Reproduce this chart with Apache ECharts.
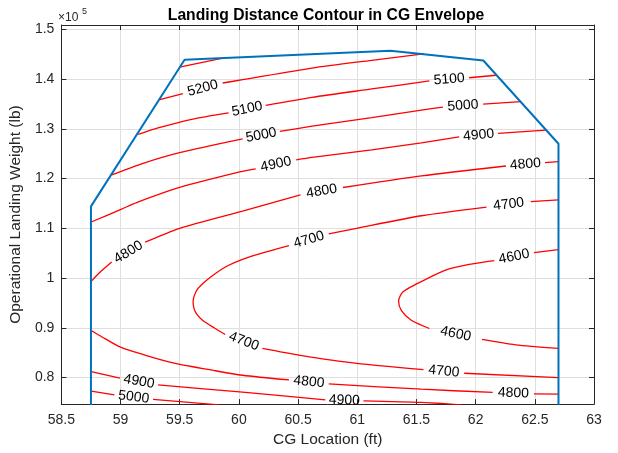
<!DOCTYPE html>
<html><head><meta charset="utf-8">
<script src="https://cdn.jsdelivr.net/npm/echarts@6/dist/echarts.min.js"></script>
<style>html,body{margin:0;padding:0;background:#fff}#c{width:618px;height:453px}</style>
</head><body><div id="c"></div><script>
const FONT = '"Liberation Sans", Arial, Helvetica, sans-serif';

// Axes
const xMin = 58.5, xMax = 63, xStep = 0.5;
const yMin = 74660, yMax = 150860;
const yTicks = [80000, 90000, 100000, 110000, 120000, 130000, 140000, 150000];

// CG envelope (x: CG location ft, y: weight lb)
const envelopeX = [58.75, 58.75, 59.541, 61.28, 62.065, 62.7, 62.7];
const envelopeY = [74000, 114400, 143860, 145700, 143720, 127000, 74000];

// Contour lines: each is a list of segments; gaps between segments hold the labels
const contour5300 = [[[59.499,142400],[59.863,144200]]];
const contour5200 = [
  [[59.331,135860],[59.527,137060]],
  [[59.863,139200],[60.031,139860],[60.618,142200],[61.122,143760],[61.559,145060]]
];
const contour5100 = [
  [[59.149,128860],[59.317,130160],[59.611,131960],[59.913,133200]],
  [[60.226,134720],[60.618,136320],[61.122,138000],[61.609,139620]],
  [[61.945,140260],[62.172,140760]]
];
const contour5000Upper = [
  [[58.925,120720],[59.191,123060],[59.499,125200],[60.031,127960]],
  [[60.346,129460],[60.618,130520],[61.122,132260],[61.542,133760],[61.724,134350]],
  [[62.063,134950],[62.382,135460]]
];
const contour4900Upper = [
  [[58.752,111260],[59.009,113860],[59.135,115160],[59.499,118200],[60.031,121460],[60.142,121960]],
  [[60.484,123760],[60.618,124260],[61.122,125760],[61.542,127160],[61.861,128360]],
  [[62.189,129060],[62.592,129720]]
];
const contour4800Upper = [
  [[58.752,99320],[58.813,100860],[58.925,103200]],
  [[59.208,107200],[59.499,110000],[60.031,113460],[60.520,116720]],
  [[60.879,118200],[61.542,120520],[62.256,122520]],
  [[62.586,123200],[62.698,123400]]
];
const contour4700 = [
  [[62.698,115720],[62.466,115360]],
  [[62.092,114260],[61.542,112520],[60.994,110000],[60.759,108860]],
  [[60.423,106520],[60.215,105160],[60.031,103760],[59.905,102460],[59.793,100760],[59.712,99260],
   [59.653,97860],[59.623,96460],[59.613,95160],[59.621,93860],[59.644,92760],[59.695,91460],
   [59.793,89960],[59.884,88660]],
  [[60.199,85860],[60.507,84520],[60.994,82860],[61.559,81600]],
  [[61.903,80860],[62.698,80000]]
];
const contour4600 = [
  [[62.698,105720],[62.493,105100]],
  [[62.157,103520],[61.973,102860],[61.752,101660],[61.497,98760],[61.385,97200],[61.349,95400],
   [61.372,93520],[61.456,91520],[61.609,89860]],
  [[62.054,87660],[62.338,86580],[62.698,85860]]
];
const contour4800Lower = [
  [[58.752,89460],[58.841,88200],[58.995,86160],[59.205,84520],[59.443,82960],[59.793,81400],[60.031,80460],[60.423,79520]],
  [[60.759,78720],[61.542,77660],[62.144,77000]],
  [[62.493,76700],[62.698,76660]]
];
const contour4900Lower = [
  [[58.752,81200],[58.995,79860]],
  [[59.317,78520],[60.031,77060],[60.730,75520]],
  [[61.052,75320],[61.542,75000],[61.878,74520]]
];
const contour5000Lower = [
  [[58.752,77260],[58.948,76520]],
  [[59.275,75600],[59.829,74520]]
];

const contourLevels = [5300, 5200, 5100, 5000, 4900, 4800, 4700, 4600, 4800, 4900, 5000];
const contourLines = [contour5300, contour5200, contour5100, contour5000Upper, contour4900Upper,
  contour4800Upper, contour4700, contour4600, contour4800Lower, contour4900Lower, contour5000Lower];

const series = [];
const labelData = [];
contourLines.forEach((segs, ci) => {
  segs.forEach((seg, si) => {
    series.push({
      type: 'line', data: seg, symbol: 'none', silent: true, animation: false, smooth: 0.25,
      lineStyle: { color: '#ff0000', width: 1.3 }, z: 3
    });
    if (si > 0) {
      const a = segs[si - 1][segs[si - 1].length - 1], b = seg[0];
      labelData.push([a[0], a[1], b[0], b[1], contourLevels[ci]]);
    }
  });
});

series.push({
  type: 'custom', data: labelData, silent: true, animation: false, z: 4,
  dimensions: ['x1', 'y1', 'x2', 'y2', 'level'],
  encode: { x: [0, 2], y: [1, 3] },
  renderItem(params, api) {
    const p1 = api.coord([api.value(0), api.value(1)]);
    const p2 = api.coord([api.value(2), api.value(3)]);
    let ang = Math.atan2(p2[1] - p1[1], p2[0] - p1[0]);
    if (ang > Math.PI / 2) ang -= Math.PI;
    if (ang < -Math.PI / 2) ang += Math.PI;
    return {
      type: 'text', x: (p1[0] + p2[0]) / 2, y: (p1[1] + p2[1]) / 2, rotation: -ang,
      style: { text: String(api.value(4)), align: 'center', verticalAlign: 'middle',
        fill: '#000', fontSize: 14, fontFamily: FONT }
    };
  }
});

series.push({
  type: 'line', data: envelopeX.map((x, i) => [x, envelopeY[i]]), symbol: 'none',
  silent: true, animation: false, z: 5,
  lineStyle: { color: '#0072BD', width: 2 }
});

const axisCol = '#262626';
const gridCol = '#dfdfdf';

const chart = echarts.init(document.getElementById('c'), null, { renderer: 'canvas' });
chart.setOption({
  animation: false,
  backgroundColor: '#fff',
  grid: { left: 58, right: 24, top: 25, bottom: 47 },
  xAxis: [{
    type: 'value', min: xMin, max: xMax, interval: xStep,
    name: 'CG Location (ft)', nameLocation: 'middle', nameGap: 27,
    nameTextStyle: { fontSize: 15.5, color: axisCol, fontFamily: FONT },
    axisLine: { lineStyle: { color: axisCol, width: 1 } },
    axisTick: { inside: true, length: 5, lineStyle: { color: axisCol } },
    axisLabel: { fontSize: 14, color: axisCol, fontFamily: FONT, margin: 9 },
    splitLine: { show: true, lineStyle: { color: gridCol, width: 1 } }
  }, {
    type: 'value', min: xMin, max: xMax, interval: xStep, position: 'top',
    axisLine: { show: true, lineStyle: { color: axisCol, width: 1 } },
    axisTick: { show: true, inside: true, length: 5, lineStyle: { color: axisCol } },
    axisLabel: { show: false }, splitLine: { show: false }
  }],
  yAxis: [{
    type: 'value', min: yMin, max: yMax,
    name: 'Operational Landing Weight (lb)', nameLocation: 'middle', nameGap: 31,
    nameTextStyle: { fontSize: 15.5, color: axisCol, fontFamily: FONT },
    axisLine: { show: true, lineStyle: { color: axisCol, width: 1 } },
    axisTick: { show: true, inside: true, length: 5, customValues: yTicks, lineStyle: { color: axisCol } },
    axisLabel: { fontSize: 14, color: axisCol, fontFamily: FONT, margin: 7, customValues: yTicks,
      formatter: v => String(Math.round(v / 1e4) / 10) },
    splitLine: { show: true, lineStyle: { color: gridCol, width: 1 } }
  }, {
    type: 'value', min: yMin, max: yMax, position: 'right',
    axisLine: { show: true, lineStyle: { color: axisCol, width: 1 } },
    axisTick: { show: true, inside: true, length: 5, customValues: yTicks, lineStyle: { color: axisCol } },
    axisLabel: { show: false }, splitLine: { show: false }
  }],
  graphic: [
    { type: 'text', x: 326, y: 16, silent: true,
      style: { text: 'Landing Distance Contour in CG Envelope', align: 'center', verticalAlign: 'middle',
        fontSize: 15.7, fontWeight: 'bold', fill: '#000', fontFamily: FONT } },
    { type: 'text', x: 58, y: 18, silent: true,
      style: { text: '×10', align: 'left', verticalAlign: 'middle', fontSize: 12, fill: axisCol, fontFamily: FONT } },
    { type: 'text', x: 82, y: 12, silent: true,
      style: { text: '5', align: 'left', verticalAlign: 'middle', fontSize: 9, fill: axisCol, fontFamily: FONT } }
  ],
  series
});
</script></body></html>
